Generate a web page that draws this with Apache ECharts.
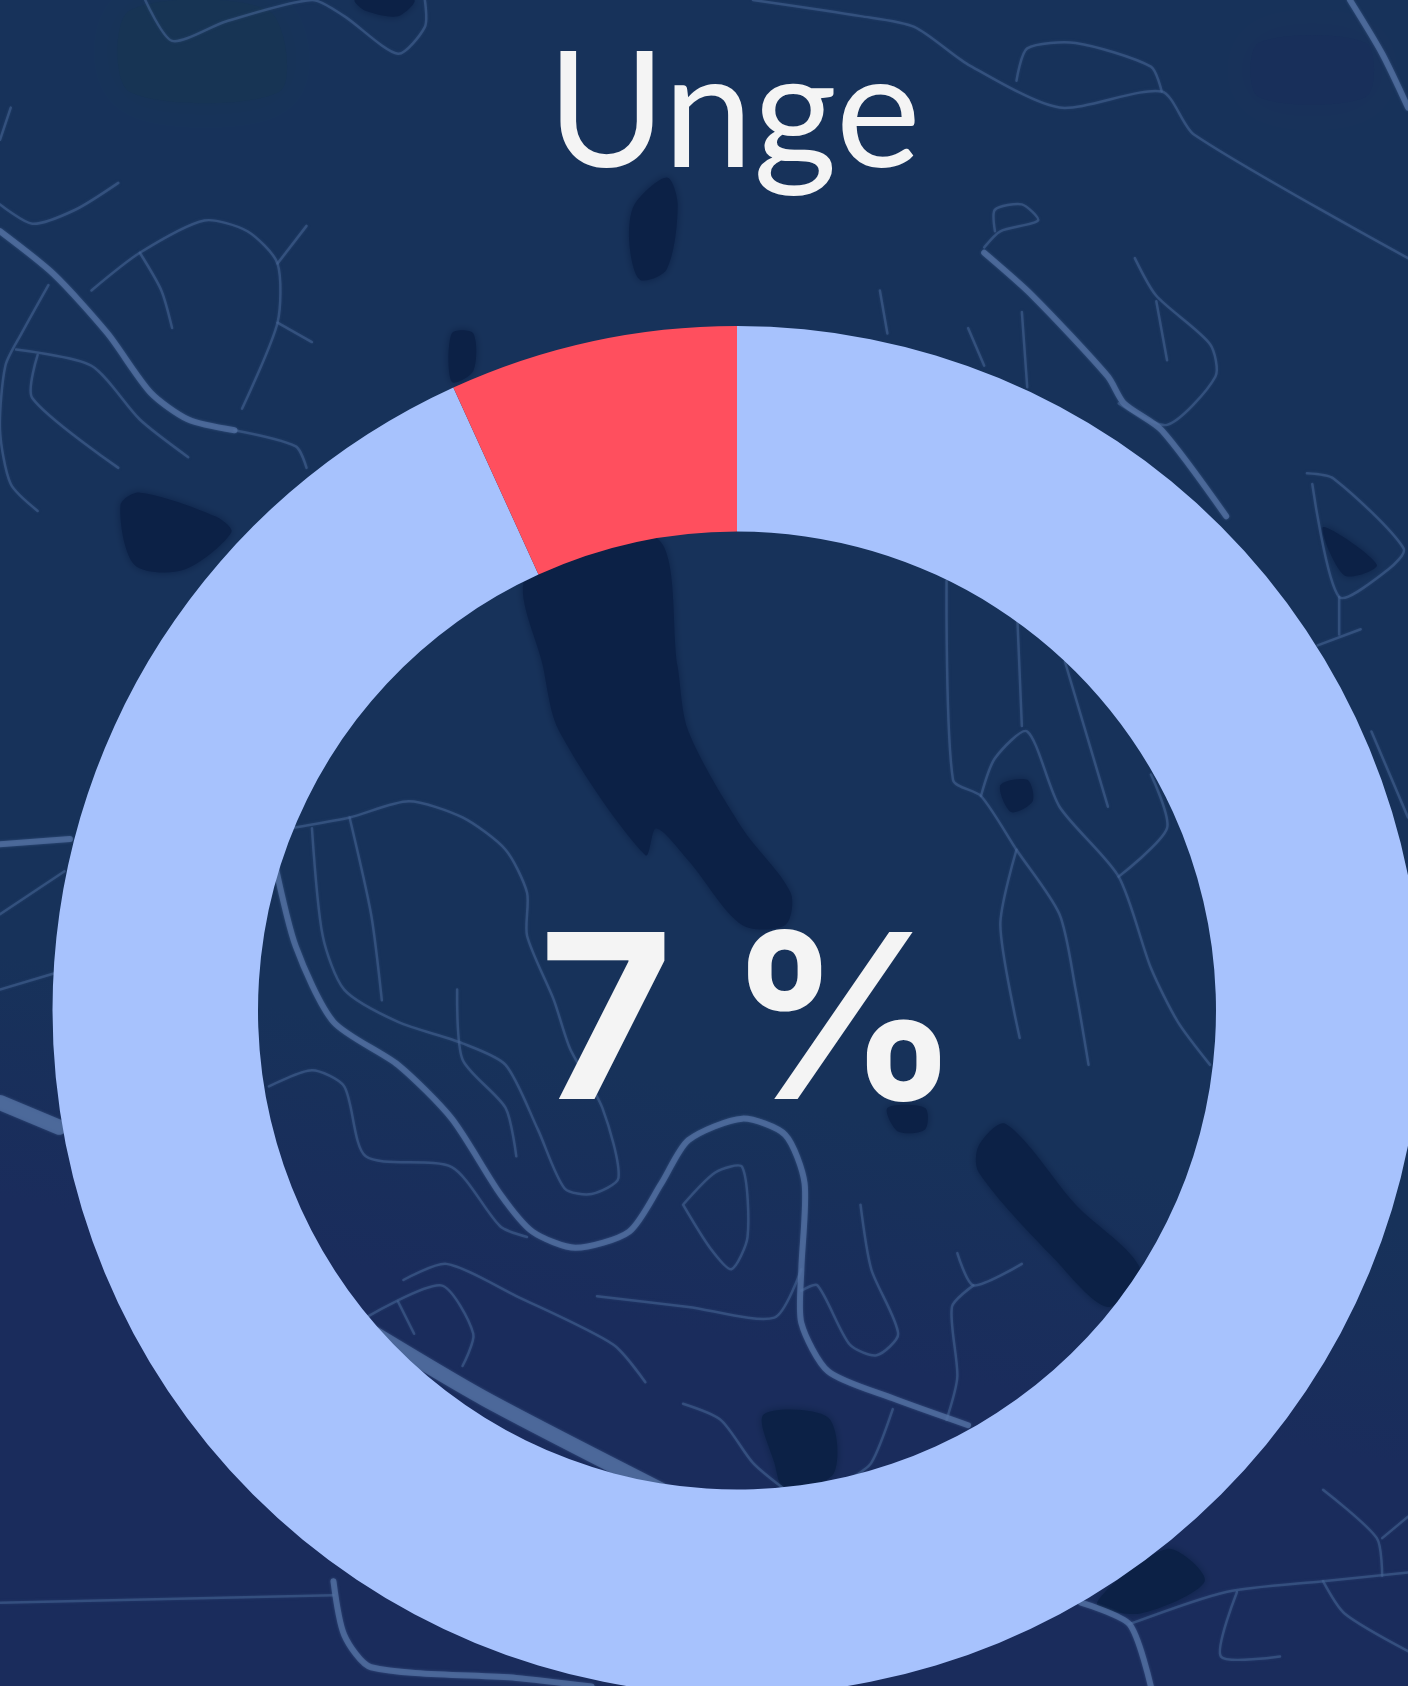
<!DOCTYPE html>
<html>
<head>
<meta charset="utf-8">
<title>Unge</title>
<style>
  html, body { margin: 0; padding: 0; background: #17325a; overflow: hidden; }
  #chart { width: 1408px; height: 1686px; }
</style>
</head>
<body>
<div id="chart"></div>
<script src="https://cdn.jsdelivr.net/npm/echarts@6/dist/echarts.min.js"></script>
<script>
// 图表数据
const categories = ['Unge', 'Andre'];
const shareValues = [6.8, 93.2];
const titleText = 'Unge';
const centerLabel = '7 %';

// 背景地图 (traced on the 1309 wide preview, scaled up below)
const mapScale = 1408 / 1309;
const thickRoads = [
  [[0,215],[50,255],[100,310],[140,365],[175,390],[218,400]],
  [[255,800],[275,880],[310,950],[370,990],[420,1040],[465,1110],[495,1145],[535,1160],[585,1145],[615,1100],[640,1060],[690,1040],[730,1055],[748,1100],[745,1180],[745,1230],[770,1275],[830,1300],[900,1325]],
  [[915,235],[960,275],[1030,350],[1045,375],[1080,400],[1140,480]],
  [[1255,0],[1285,50],[1309,100]],
  [[0,785],[65,780]],
  [[310,1470],[320,1520],[345,1550],[480,1560],[550,1568]],
  [[1005,1490],[1050,1510],[1070,1568]]
];
const wideRoads = [
  [[0,1025],[55,1048]],
  [[340,1235],[450,1300],[620,1388]]
];
const thinRoads = [
  [[135,0],[160,38],[210,20],[290,0],[320,15],[370,50],[395,25],[395,0]],
  [[0,190],[30,208],[70,195],[110,170]],
  [[10,100],[0,130]],
  [[85,270],[130,235],[190,205],[230,215],[258,245],[258,300],[225,380]],
  [[258,245],[285,210]],
  [[258,300],[290,318]],
  [[130,235],[150,270],[160,305]],
  [[45,265],[20,310],[5,340],[0,400],[10,450],[35,475]],
  [[15,325],[85,340],[130,390],[175,425]],
  [[35,330],[30,370],[110,435]],
  [[218,400],[275,415],[285,435]],
  [[0,850],[60,810]],
  [[0,920],[50,905]],
  [[700,0],[800,15],[850,25],[900,60],[985,100],[1080,85],[1110,125],[1309,240]],
  [[945,75],[955,45],[1000,40],[1070,62],[1080,85]],
  [[915,230],[930,215],[965,205],[950,190],[925,195],[925,215]],
  [[1055,240],[1075,275],[1125,320],[1130,350],[1085,395],[1040,375]],
  [[1075,280],[1085,335]],
  [[818,270],[825,310]],
  [[950,290],[955,360]],
  [[900,305],[915,340]],
  [[1215,440],[1240,445],[1305,510],[1290,530],[1245,555],[1220,450]],
  [[1245,555],[1245,590]],
  [[1225,600],[1265,585]],
  [[1275,680],[1309,760]],
  [[880,540],[886,725],[912,740],[945,790],[985,850],[1000,920],[1012,990]],
  [[912,740],[925,705],[955,680],[985,750],[1040,815],[1070,900],[1095,950],[1125,990]],
  [[945,555],[950,675]],
  [[990,615],[1030,750]],
  [[945,790],[930,860],[948,965]],
  [[1040,815],[1085,770],[1070,720]],
  [[270,770],[325,760],[380,745],[430,760],[470,790],[490,830],[490,870],[515,930],[530,975],[560,1030],[575,1095],[550,1110],[525,1105],[500,1050],[470,990],[430,970],[370,950],[320,920],[300,870],[290,770]],
  [[325,760],[345,850],[355,930]],
  [[425,920],[430,985],[470,1030],[480,1075]],
  [[250,1010],[290,995],[320,1010],[340,1075],[420,1085],[465,1140],[490,1150]],
  [[375,1190],[415,1175],[480,1205],[570,1250],[600,1285]],
  [[340,1225],[410,1195],[440,1240],[430,1270]],
  [[370,1210],[385,1240]],
  [[555,1205],[640,1215],[720,1225],[745,1180]],
  [[635,1120],[665,1090],[690,1085],[695,1150],[680,1180],[660,1160],[635,1120]],
  [[800,1120],[810,1180],[835,1240],[815,1260],[790,1250],[760,1195],[745,1200]],
  [[890,1165],[905,1195],[950,1175]],
  [[905,1195],[885,1215],[890,1280],[880,1320]],
  [[830,1310],[810,1360],[790,1375]],
  [[635,1305],[670,1320],[700,1360],[730,1385]],
  [[0,1490],[310,1483]],
  [[1050,1510],[1140,1480],[1230,1470],[1309,1462]],
  [[1230,1470],[1250,1500],[1309,1535]],
  [[1150,1480],[1135,1540],[1190,1540]],
  [[1230,1385],[1280,1430],[1285,1465]],
  [[1285,1430],[1309,1410]]
];
const lakes = [
  [[590,190],[620,165],[630,190],[620,250],[595,260],[585,225]],
  [[420,310],[440,310],[440,345],[420,355]],
  [[112,470],[130,458],[200,480],[215,495],[170,530],[125,525]],
  [[490,535],[610,500],[630,620],[640,680],[690,770],[735,830],[730,860],[690,860],[640,800],[610,770],[600,795],[520,680],[505,620]],
  [[910,1065],[935,1045],[1000,1120],[1060,1180],[1030,1215],[980,1170],[910,1090]],
  [[710,1315],[770,1318],[775,1370],[730,1385],[720,1360]],
  [[1020,1490],[1085,1440],[1120,1470],[1060,1500]],
  [[825,1030],[860,1030],[860,1050],[835,1052]],
  [[1230,490],[1280,525],[1250,535]],
  [[930,730],[955,725],[960,745],[940,755]],
  [[330,0],[385,0],[370,15],[340,10]]
];
const greenPatches = [[[120,10],[250,10],[260,85],[120,85]]];
const purplePatches = [[[1170,40],[1270,40],[1270,90],[1170,90]]];

function scaled(points) {
  return points.map((p) => [p[0] * mapScale, p[1] * mapScale]);
}
function roadElements(roads, width, color) {
  return roads.map((points) => ({
    type: 'polyline',
    silent: true,
    shape: { points: scaled(points), smooth: 0.25 },
    style: { stroke: color, lineWidth: width, fill: null, lineCap: 'round', lineJoin: 'round', shadowBlur: 3, shadowColor: color },
  }));
}
function areaElements(areas, color, blur) {
  return areas.map((points) => ({
    type: 'polygon',
    silent: true,
    shape: { points: scaled(points), smooth: 0.3 },
    style: { fill: color, shadowBlur: blur, shadowColor: color },
  }));
}

const background = [
  {
    type: 'rect',
    silent: true,
    shape: { x: 0, y: 0, width: 1408, height: 1686 },
    style: {
      fill: {
        type: 'linear', x: 1, y: 0, x2: 0.77, y2: 1,
        colorStops: [
          { offset: 0, color: '#17325a' },
          { offset: 0.7, color: '#17325a' },
          { offset: 0.84, color: '#1a2c5c' },
          { offset: 1, color: '#1a2c5c' },
        ],
      },
    },
  },
  ...areaElements(greenPatches, '#173454', 40),
  ...areaElements(purplePatches, '#182f5a', 40),
  ...areaElements(lakes, '#0c2146', 8),
  ...roadElements(thinRoads, 2.5, 'rgba(70,100,148,0.55)'),
  ...roadElements(thickRoads, 6, 'rgba(86,115,165,0.7)'),
  ...roadElements(wideRoads, 15, 'rgba(86,115,165,0.7)'),
];

const chart = echarts.init(document.getElementById('chart'));
chart.setOption({
  animation: false,
  graphic: { elements: background },
  title: [
    {
      text: titleText,
      left: 729,
      top: 30,
      textAlign: 'center',
      textStyle: { color: '#f4f4f4', fontFamily: 'Lato', fontWeight: 400, fontSize: 161 },
    },
    {
      text: centerLabel,
      left: 745,
      top: 910,
      textAlign: 'center',
      textStyle: { color: '#f4f4f4', fontFamily: 'Inter', fontWeight: 700, fontSize: 230 },
    },
  ],
  series: [
    {
      type: 'pie',
      center: [737, 1010.5],
      radius: [479, 684.5],
      startAngle: 90,
      clockwise: true,
      silent: true,
      label: { show: false },
      labelLine: { show: false },
      data: [
        { name: categories[1], value: shareValues[1], itemStyle: { color: '#a7c2fd' } },
        { name: categories[0], value: shareValues[0], itemStyle: { color: '#ff4f5e' } },
      ],
    },
  ],
});
</script>
</body>
</html>
